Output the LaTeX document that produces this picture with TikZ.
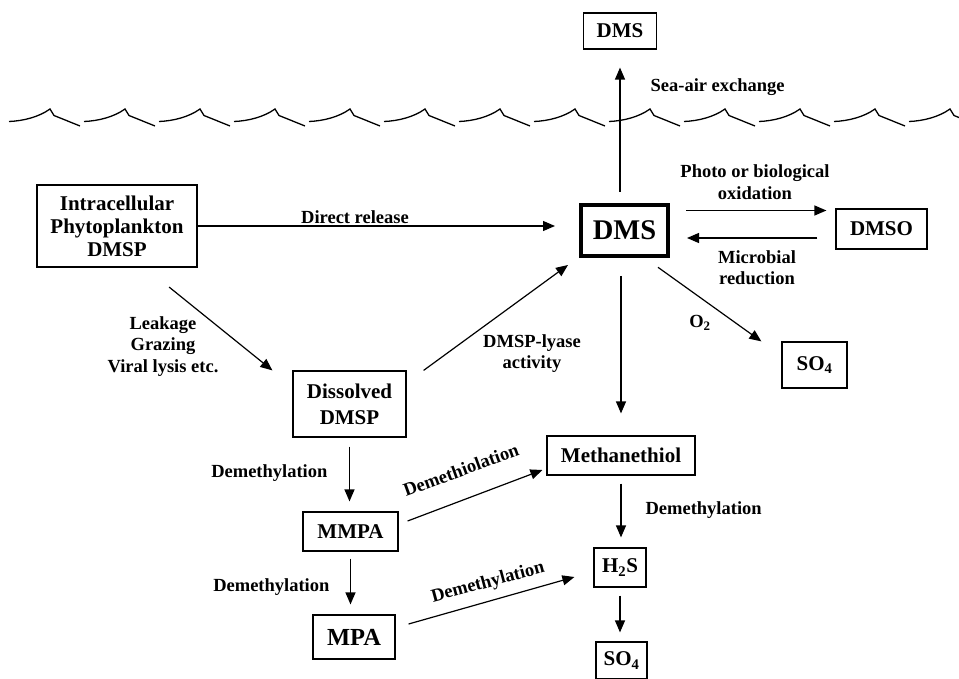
\documentclass[tikz,border=0pt]{standalone}
\usepackage{fontspec}
\setmainfont{Liberation Serif}
\usetikzlibrary{arrows.meta}
\usetikzlibrary{positioning}

\begin{document}
\begin{tikzpicture}[x=1pt, y=-1pt, line width=1.2pt, >={Triangle[length=12pt, width=10pt]}, font=\bfseries]
    \tikzstyle{box}=[draw=black, rectangle, inner sep=0pt, align=center, font=\bfseries\fontsize{21}{23}\selectfont]
    \tikzstyle{lbl}=[inner sep=0pt, align=center, font=\bfseries\fontsize{18.5}{21.5}\selectfont]
    \tikzstyle{arr}=[->, draw=black]

    \useasboundingbox (0,0) rectangle (959,679);

    % sea surface
    \foreach \i in {0,...,12} {
        \pgfmathsetmacro{\xo}{9+75*\i}
        \draw[line width=1.3pt] (\xo,121.5) .. controls (\xo+14,121) and (\xo+30,117) .. (\xo+41,109) -- (\xo+45,115.5) -- (\xo+71,126);
    }

    \node[box, minimum width=73pt, minimum height=36pt] (dmsair) at (620,31) {DMS};
    \node[box, line width=4pt, minimum width=87pt, minimum height=51pt, font=\bfseries\fontsize{28.5}{30}\selectfont] (dms) at (624.5,230.5) {DMS};
    \node[box, minimum width=91pt, minimum height=40pt] (dmso) at (881.5,229) {DMSO};
    \node[box, minimum width=65pt, minimum height=46pt] (so4a) at (814.5,365) {SO\textsubscript{4}};
    \node[box, minimum width=160pt, minimum height=82pt] (intra) at (117,226) {Intracellular\\Phytoplankton\\DMSP};
    \node[box, minimum width=113pt, minimum height=66pt] (diss) at (349.5,404) {Dissolved\\[3pt]DMSP};
    \node[box, minimum width=148pt, minimum height=39pt] (meth) at (621,455.5) {Methanethiol};
    \node[box, minimum width=95pt, minimum height=39pt] (mmpa) at (350.5,531.5) {MMPA};
    \node[box, minimum width=82pt, minimum height=44pt, font=\bfseries\fontsize{24.5}{26}\selectfont] (mpa) at (354,637) {MPA};
    \node[box, minimum width=52pt, minimum height=39pt] (h2s) at (620,567.5) {H\textsubscript{2}S};
    \node[box, minimum width=51pt, minimum height=37pt] (so4b) at (621.5,660.5) {SO\textsubscript{4}};

    \node[lbl, anchor=west] (seaair) at (650,87) {Sea-air exchange};
    \node[lbl] (release) at (355,217) {Direct release};
    \node[lbl] (oxid) at (755,182) {Photo or biological\\oxidation};
    \node[lbl] (reduc) at (757,267.5) {Microbial\\reduction};
    \node[lbl] (otwo) at (700,323) {O\textsubscript{2}};
    \node[lbl] (leak) at (163,346.5) {Leakage\\Grazing\\Viral lysis etc.};
    \node[lbl] (lyase) at (532,353.5) {DMSP-lyase\\activity};
    \node[lbl, anchor=east] (demeth1) at (328,473) {Demethylation};
    \node[lbl, anchor=east] (demeth2) at (330,587) {Demethylation};
    \node[lbl, rotate=20] (demethiol) at (461,470) {Demethiolation};
    \node[lbl, rotate=15] (demeth3) at (488,583) {Demethylation};
    \node[lbl, anchor=west] (demeth4) at (645,510) {Demethylation};

    \draw[arr, shorten <=11pt, shorten >=18pt] (dmsair.south |- dms.north) -- (dmsair.south);
    \draw[arr, shorten >=24pt] (intra.east) -- (intra.east -| dms.west);
    \draw[arr, shorten <=16pt, shorten >=9pt] ([yshift=20pt]dms.east) -- ([yshift=20pt]dms.east -| dmso.west);
    \draw[arr, shorten <=18pt, shorten >=17pt] ([yshift=-9pt]dmso.west) -- ([yshift=-9pt]dmso.west -| dms.east);
    \draw[arr, shorten <=16pt] ([xshift=-25pt]dms.south east) -- ([xshift=-20pt]so4a.north west);
    \draw[arr, shorten <=18pt, shorten >=22pt] (dms.south -| meth.north) -- (meth.north);
    \draw[arr, shorten <=31pt] ([xshift=28pt]intra.south) -- ([xshift=-20pt]diss.north west);
    \draw[arr] ([xshift=17pt]diss.north east) -- ([xshift=-11pt,yshift=-7pt]dms.south west);
    \draw[arr, shorten <=9pt, shorten >=10pt] (diss.south) -- (diss.south |- mmpa.north);
    \draw[arr, shorten <=7pt, shorten >=10pt] (mmpa.south) -- (mmpa.south |- mpa.north);
    \draw[arr] ([xshift=9pt,yshift=10.5pt]mmpa.east) -- ([xshift=-4pt,yshift=-14.5pt]meth.west);
    \draw[arr] ([xshift=13pt,yshift=13pt]mpa.east) -- ([xshift=-19pt,yshift=-9.5pt]h2s.west);
    \draw[arr, shorten <=8pt, shorten >=10pt] (meth.south) -- (meth.south |- h2s.north);
    \draw[arr, shorten <=8pt, shorten >=9pt] (h2s.south) -- (h2s.south |- so4b.north);

\end{tikzpicture}
\end{document}
